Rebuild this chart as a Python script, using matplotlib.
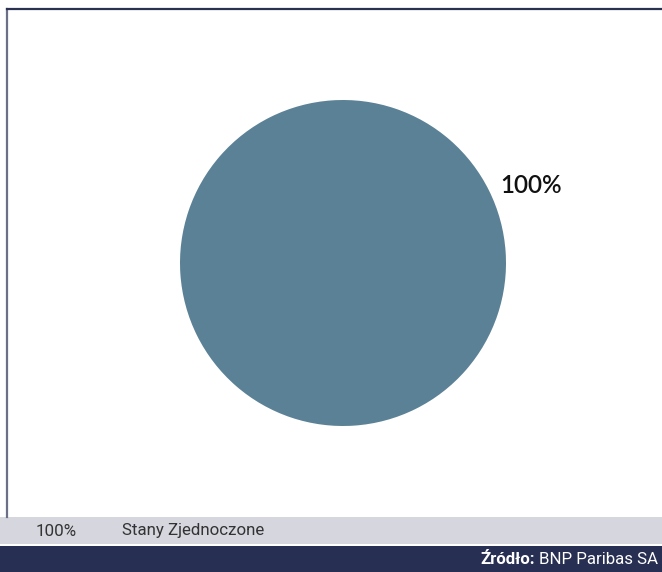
import matplotlib
matplotlib.use("Agg")
import matplotlib.pyplot as plt
from matplotlib.patches import Rectangle
from matplotlib.lines import Line2D

countries = ["Stany Zjednoczone"]
shares = [100]
colors = ["#5b8196"]
source_label = "Źródło:"
source_name = "BNP Paribas SA"

W, H = 662, 572
fig = plt.figure(figsize=(W / 100, H / 100), dpi=100)
fig.patch.set_facecolor("white")


def fx(px):
    return px / W


def fy(py):
    return 1 - py / H


# frame lines
fig.add_artist(Line2D([fx(7), fx(7)], [fy(9), fy(517)], color="#6b6f88", lw=1.6))
fig.add_artist(Line2D([fx(7), 1], [fy(9), fy(9)], color="#2b3150", lw=1.6))

# legend band and footer
fig.add_artist(Rectangle((0, fy(544)), 1, (544 - 517) / H, transform=fig.transFigure,
                         facecolor="#d5d6de", edgecolor="none"))
fig.add_artist(Rectangle((0, 0), 1, (572 - 546) / H, transform=fig.transFigure,
                         facecolor="#272f52", edgecolor="none"))

ax = fig.add_axes([fx(180), fy(426), 326 / W, 326 / H])
ax.pie(shares, colors=colors, labels=[f"{s}%" for s in shares], startangle=206.4,
       labeldistance=1.076, radius=1,
       textprops={"fontsize": 17.5, "family": "Lato", "weight": "semibold",
                  "color": "#111111"})
ax.set_xlim(-1, 1)
ax.set_ylim(-1, 1)
ax.set_aspect("auto")
ax.axis("off")

for i, (name, share) in enumerate(zip(countries, shares)):
    fig.text(fx(36), fy(531), f"{share}%", fontsize=12.2, family="Roboto",
             color="#333333", va="center", ha="left")
    fig.text(fx(122), fy(531), name, fontsize=12.2, family="Roboto",
             color="#333333", va="center", ha="left")

src = fig.text(fx(658), fy(559), source_name, fontsize=12.2, family="Roboto",
               color="white", va="center", ha="right")
fig.canvas.draw()
bb = src.get_window_extent()
fig.text(bb.x0 / W - 4 / W, fy(559), source_label, fontsize=12.2, family="Roboto",
         weight="bold", color="white", va="center", ha="right")

fig.savefig("out.png", dpi=100, facecolor="white")
